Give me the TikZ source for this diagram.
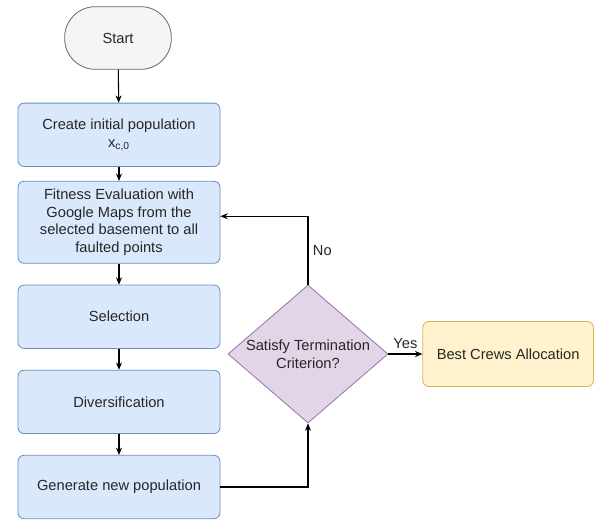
\documentclass[tikz,border=0pt]{standalone}
\usepackage{fontspec}
\setmainfont{Liberation Sans}
\usetikzlibrary{arrows.meta,positioning,shapes.geometric}

\definecolor{bluefill}{HTML}{DAE8FC}
\definecolor{blueline}{HTML}{6C8EBF}
\definecolor{purpfill}{HTML}{E1D5E7}
\definecolor{purpline}{HTML}{9673A6}
\definecolor{yelfill}{HTML}{FFF2CC}
\definecolor{yelline}{HTML}{D6B656}
\definecolor{greyfill}{HTML}{F5F5F5}
\definecolor{greyline}{HTML}{666666}

\begin{document}
\begin{tikzpicture}[
  x=0.75pt, y=-0.75pt,
  node distance=15.75pt,
  every node/.style={font=\fontsize{11}{13.3}\selectfont, text=black!85},
  box/.style={draw=blueline, fill=bluefill, line width=0.6pt, rounded corners=4.5pt, align=center, minimum width=151.5pt, minimum height=47.5pt},
  term/.style={draw=greyline, fill=greyfill, line width=0.6pt, rounded corners=23pt, minimum width=80pt, minimum height=47pt},
  decide/.style={diamond, draw=purpline, fill=purpfill, line width=0.6pt, aspect=1.16, inner ysep=0pt, inner xsep=-20pt, align=center, minimum width=120pt, minimum height=103.5pt},
  result/.style={draw=yelline, fill=yelfill, line width=0.6pt, rounded corners=4.5pt, align=center, minimum width=128pt, minimum height=48.75pt},
  link/.style={->, line width=0.8pt},
  >={Stealth[length=5.5pt, width=4.5pt]}
]
\useasboundingbox (0,0) rectangle (604,519);
\node[term] (start) at (118,38) {Start};
\node[box, below=24.75pt of start.south, anchor=north, xshift=0.75pt] (init) {Create initial population\\x\textsubscript{c,0}};
\node[box, below=10.5pt of init, minimum height=61.5pt] (eval) {Fitness Evaluation with\\Google Maps from the\\selected basement to all\\faulted points};
\node[box, below=of eval] (sel) {Selection};
\node[box, below=of sel] (div) {Diversification};
\node[box, below=of div] (gen) {Generate new population};
\node[decide] (crit) at (308,354) {Satisfy Termination\\Criterion?};
\node[result, right=25.5pt of crit] (best) {Best Crews Allocation};
\draw[link] (start) -- (init);
\draw[link] (init) -- (eval);
\draw[link] (eval) -- (sel);
\draw[link] (sel) -- (div);
\draw[link] (div) -- (gen);
\draw[link] (gen.east) -| (crit.south);
\draw[link] (crit.north) |- node[pos=0.25, right] {No} ([yshift=4.5pt]eval.east);
\draw[link] (crit.east) -- node[above] {Yes} (best);
\end{tikzpicture}
\end{document}
